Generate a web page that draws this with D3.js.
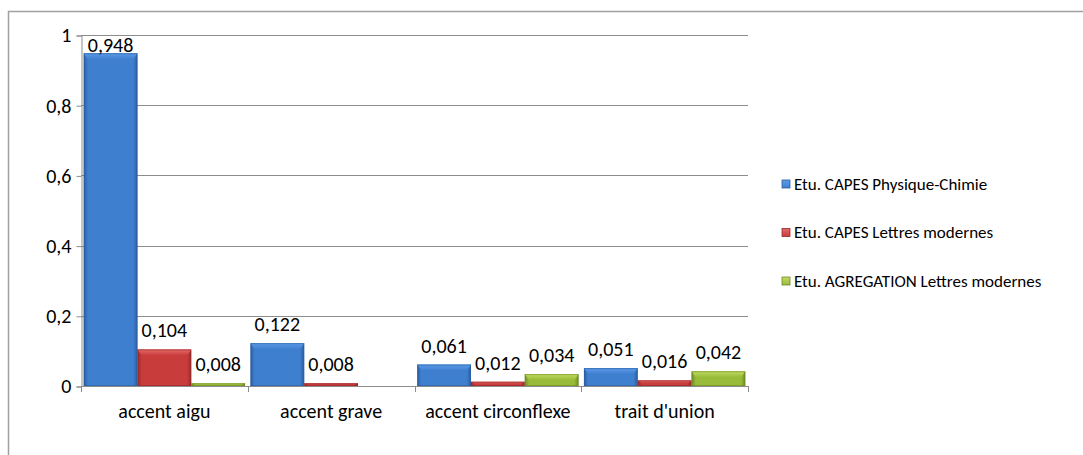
<!DOCTYPE html>
<html><head><meta charset="utf-8">
<script src="https://cdn.jsdelivr.net/npm/d3@7/dist/d3.min.js"></script>
<style>body{margin:0;background:#fff}svg{display:block}text{font-family:Carlito,Calibri,"Open Sans",sans-serif;fill:#000}</style>
</head><body><svg id="c" width="1083" height="455"></svg>
<script>
const categories = ["accent aigu", "accent grave", "accent circonflexe", "trait d'union"];
const seriesNames = ["Etu. CAPES Physique-Chimie", "Etu. CAPES Lettres modernes", "Etu. AGREGATION Lettres modernes"];
const physChimie = [0.948, 0.122, 0.061, 0.051];
const capesLettres = [0.104, 0.008, 0.012, 0.016];
const agregLettres = [0.008, null, 0.034, 0.042];
const yTicks = [0, 0.2, 0.4, 0.6, 0.8, 1];
const seriesValues = [physChimie, capesLettres, agregLettres];
const colors = [
  {light:"#5d9be8", mid:"#3f7fcf", dark:"#2b5d9f"},
  {light:"#e56a6a", mid:"#c83c3c", dark:"#982a2a"},
  {light:"#c2dc62", mid:"#98bb3a", dark:"#6e8a26"}
];

const svg = d3.select("#c");
const defs = svg.append("defs");
colors.forEach((c,i)=>{
  const g = defs.append("linearGradient").attr("id","g"+i).attr("x1",0).attr("x2",1).attr("y1",0).attr("y2",0);
  g.append("stop").attr("offset","0%").attr("stop-color",c.dark);
  g.append("stop").attr("offset","8%").attr("stop-color",c.mid);
  g.append("stop").attr("offset","92%").attr("stop-color",c.mid);
  g.append("stop").attr("offset","100%").attr("stop-color",c.dark);
  const t = defs.append("linearGradient").attr("id","t"+i).attr("x1",0).attr("x2",0).attr("y1",0).attr("y2",1);
  t.append("stop").attr("offset","0%").attr("stop-color",c.light);
  t.append("stop").attr("offset","100%").attr("stop-color",c.mid);
});

// outer border
svg.append("path").attr("d","M8.5,455 V11.5 H1083").attr("fill","none").attr("stroke","#a0a0a0").attr("stroke-width",1.5);

const pLeft = 81, pRight = 748, pTop = 35, pBottom = 386;
const y = d3.scaleLinear().domain([0,1]).range([pBottom, pTop]);
const x0 = d3.scaleBand().domain(categories).range([pLeft, pRight]).paddingInner(0).paddingOuter(0);
const x1 = d3.scaleBand().domain(d3.range(3)).range([0, x0.bandwidth()]).paddingOuter(0.05).paddingInner(0);
const fmtComma = d => d.replace(".", ",");
const FS = 20;

// gridlines
svg.append("g").selectAll("line").data(yTicks.filter(d=>d>0)).join("line")
  .attr("x1",pLeft).attr("x2",pRight).attr("y1",d=>Math.round(y(d))+0.5).attr("y2",d=>Math.round(y(d))+0.5)
  .attr("stroke","#8c8c8c").attr("stroke-width",1);

// y axis
const ya = svg.append("g").attr("transform",`translate(${pLeft+0.5},0.5)`)
  .call(d3.axisLeft(y).tickValues(yTicks).tickFormat(d=>fmtComma(String(d))).tickSize(5).tickPadding(5));
ya.select(".domain").attr("stroke","#8c8c8c");
ya.selectAll(".tick line").attr("stroke","#8c8c8c");
ya.selectAll(".tick text").attr("font-size",FS).attr("fill","#000").style("font-family","Carlito,Calibri,'Open Sans',sans-serif");

// x axis
svg.append("line").attr("x1",pLeft).attr("x2",pRight).attr("y1",pBottom+0.5).attr("y2",pBottom+0.5).attr("stroke","#8c8c8c");
const edges = categories.map(c=>x0(c)).concat([pRight]);
svg.append("g").selectAll("line").data(edges).join("line")
  .attr("x1",d=>Math.round(d)+0.5).attr("x2",d=>Math.round(d)+0.5)
  .attr("y1",pBottom).attr("y2",pBottom+6).attr("stroke","#8c8c8c");
svg.append("g").selectAll("text").data(categories).join("text")
  .attr("x",d=>x0(d)+x0.bandwidth()/2).attr("y",pBottom+32)
  .attr("text-anchor","middle").attr("font-size",FS).text(d=>d);

// bars
const bars = [];
seriesValues.forEach((vals,s)=>vals.forEach((v,i)=>{ if(v!==null) bars.push({s,i,v,c:categories[i]}); }));
const bg = svg.append("g");
bars.forEach(b=>{
  const bx = x0(b.c)+x1(b.s), bw = x1.bandwidth(), by = y(b.v), bh = pBottom - by;
  const g = bg.append("g");
  g.append("rect").attr("x",bx).attr("y",by).attr("width",bw).attr("height",bh).attr("fill",`url(#g${b.s})`);
  const cap = Math.min(6, bh/2);
  if (bh > 1.5) {
    g.append("path").attr("d",`M${bx},${by} H${bx+bw} L${bx+bw-4},${by+cap} H${bx+4} Z`).attr("fill",`url(#t${b.s})`);
  }
  g.append("rect").attr("x",bx+0.5).attr("y",by+0.5).attr("width",bw-1).attr("height",Math.max(bh-1,0.5))
    .attr("fill","none").attr("stroke",colors[b.s].dark).attr("stroke-opacity",0.6);
  g.append("text").attr("x",bx+bw/2).attr("y",Math.max(by-19, 45)).attr("dy","0.35em")
    .attr("text-anchor","middle").attr("font-size",FS).text(fmtComma(d3.format(".3f")(b.v)));
});

// legend
const lg = svg.append("g");
seriesNames.forEach((n,i)=>{
  const ly = 184 + i*48.5;
  lg.append("rect").attr("x",782).attr("y",ly-4).attr("width",8).attr("height",8).attr("fill",`url(#t${i})`).attr("stroke",colors[i].dark).attr("stroke-width",0.8);
  lg.append("text").attr("x",794).attr("y",ly).attr("dy","0.35em").attr("font-size",17).text(n);
});
</script></body></html>
